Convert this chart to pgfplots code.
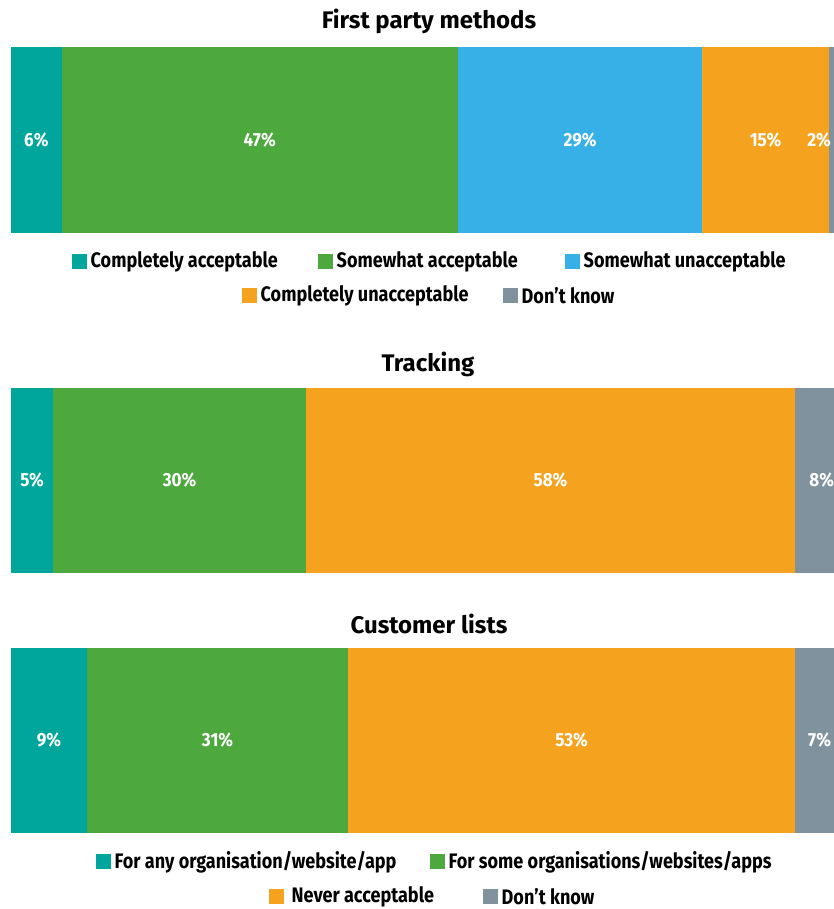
\documentclass[border=0pt]{standalone}
\usepackage{pgfplots}
\pgfplotsset{compat=1.18}
\usepackage{fontspec}
\setmainfont{Fira Sans}
\newfontfamily\condfont{Fira Sans}[FakeStretch=0.86]
\newfontfamily\labfont{Fira Sans}[FakeStretch=0.9]
\definecolor{cteal}{HTML}{00A59B}
\definecolor{cgreen}{HTML}{4DA83E}
\definecolor{cblue}{HTML}{36B0E6}
\definecolor{corange}{HTML}{F5A31E}
\definecolor{cgray}{HTML}{7F929E}
\newcommand{\barfont}{\labfont\bfseries\fontsize{19}{20}\selectfont}
\newcommand{\legfont}{\condfont\bfseries\fontsize{21}{22}\selectfont}
\newcommand{\titfont}{\bfseries\fontsize{24}{26}\selectfont}
\newcommand{\seg}[3][0pt]{\addplot[fill=#2,draw=none,nodes near coords={#3\%},
  every node near coord/.append style={anchor=center,xshift=#1,text=white,font=\barfont}] coordinates {(#3,0)};}
\pgfplotsset{barax/.style={xbar stacked, width=843pt, scale only axis,
  xmin=0, xmax=100, ymin=-0.5, ymax=0.5, hide axis, anchor=south west, clip=false}}
\newcommand{\legent}[4]{% x, y, color, text
  \fill[#3] (#1pt-7.5pt,#2pt-7.5pt) rectangle ++(15pt,15pt);
  \node[anchor=west,inner sep=0pt,font=\legfont] at (#1pt+11pt,#2pt) {#4};}
\begin{document}
\begin{tikzpicture}[x=1pt,y=1pt]
\useasboundingbox (0,0) rectangle (834,909);
% First party methods
\begin{axis}[barax, at={(11pt,676pt)}, height=186pt, bar width=186pt]
\seg{cteal}{6}
\seg{cgreen}{47}
\seg{cblue}{29}
\seg{corange}{15}
\seg[-18pt]{cgray}{2}
\end{axis}
\node[font=\titfont] at (429,888) {First party methods};
\legent{79.5}{647}{cteal}{Completely acceptable}
\legent{325.5}{647}{cgreen}{Somewhat acceptable}
\legent{572.5}{647}{cblue}{Somewhat unacceptable}
\legent{249.5}{613}{corange}{Completely unacceptable}
\legent{510.5}{613}{cgray}{Don’t know}
% Tracking
\begin{axis}[barax, at={(11pt,336pt)}, height=185pt, bar width=185pt]
\seg{cteal}{5}
\seg{cgreen}{30}
\seg{corange}{58}
\seg[-7pt]{cgray}{8}
\end{axis}
\node[font=\titfont] at (428,545) {Tracking};
% Customer lists
\begin{axis}[barax, at={(11pt,76pt)}, height=185pt, bar width=185pt]
\seg{cteal}{9}
\seg{cgreen}{31}
\seg{corange}{53}
\seg[-5pt]{cgray}{7}
\end{axis}
\node[font=\titfont] at (429,285) {Customer lists};
\legent{103.5}{47}{cteal}{For any organisation/website/app}
\legent{437.5}{47}{cgreen}{For some organisations/websites/apps}
\legent{276.5}{12}{corange}{\hspace{4pt}Never acceptable}
\legent{490.5}{12}{cgray}{Don’t know}
\end{tikzpicture}
\end{document}
